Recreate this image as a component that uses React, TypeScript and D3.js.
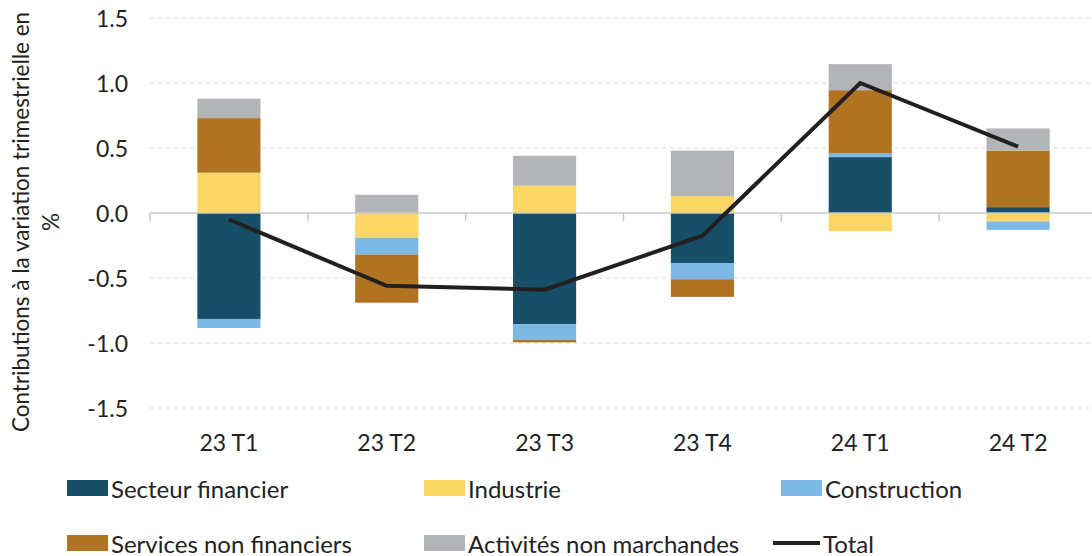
import React from "react";
import * as d3 from "d3";

// quarters on the x axis
const quarters = ["23 T1", "23 T2", "23 T3", "23 T4", "24 T1", "24 T2"];

// contributions by sector
const secteurFinancier = [-0.815, 0.0, -0.855, -0.385, 0.43, 0.045];
const industrie = [0.31, -0.19, 0.21, 0.13, -0.14, -0.065];
const construction = [-0.07, -0.13, -0.12, -0.125, 0.03, -0.065];
const servicesNonFinanciers = [0.42, -0.37, -0.02, -0.135, 0.485, 0.435];
const activitesNonMarchandes = [0.15, 0.14, 0.23, 0.35, 0.2, 0.17];
const total = [-0.05, -0.56, -0.59, -0.175, 1.0, 0.51];

const yTicks = [1.5, 1.0, 0.5, 0.0, -0.5, -1.0, -1.5];

const seriesNames = [
  "Secteur financier",
  "Industrie",
  "Construction",
  "Services non financiers",
  "Activités non marchandes",
];
const seriesValues = [
  secteurFinancier,
  industrie,
  construction,
  servicesNonFinanciers,
  activitesNonMarchandes,
];
const colors = ["#174f69", "#fcd664", "#7cb9e4", "#b07321", "#b3b4b7"];

const W = 1092;
const H = 556;
const font = "Lato, 'Open Sans', sans-serif";

export default function App() {
  const x = d3
    .scaleBand()
    .domain(quarters)
    .range([150, 1097])
    .paddingInner(0.6)
    .paddingOuter(0.3);
  const step = x.step();
  const y = d3.scaleLinear().domain([-1.5, 1.5]).range([408, 18]);

  const rows = quarters.map((q, i) => {
    const r: any = { q };
    seriesNames.forEach((s, k) => (r[s] = seriesValues[k][i]));
    return r;
  });
  const stacked = d3
    .stack()
    .keys(seriesNames)
    .offset(d3.stackOffsetDiverging)(rows);

  const line = d3
    .line<number>()
    .x((d, i) => (x(quarters[i]) as number) + x.bandwidth() / 2)
    .y((d) => y(d));

  const legend = [
    { name: seriesNames[0], color: colors[0], lx: 67, ly: 488 },
    { name: seriesNames[1], color: colors[1], lx: 424, ly: 488 },
    { name: seriesNames[2], color: colors[2], lx: 781, ly: 488 },
    { name: seriesNames[3], color: colors[3], lx: 67, ly: 543 },
    { name: seriesNames[4], color: colors[4], lx: 424, ly: 543 },
  ];

  return (
    <svg
      width={W}
      height={H}
      style={{ position: "absolute", left: 0, top: 0, background: "#fff" }}
      fontFamily={font}
    >
      {/* grid */}
      {yTicks
        .filter((t) => t !== 0)
        .map((t) => (
          <line
            key={t}
            x1={150}
            x2={W}
            y1={y(t)}
            y2={y(t)}
            stroke="#d9d9d9"
            strokeWidth={1}
            strokeDasharray="4,4"
          />
        ))}
      {yTicks.map((t) => (
        <text
          key={"l" + t}
          x={128}
          y={y(t)}
          textAnchor="end"
          dominantBaseline="central"
          fontSize={23}
          fill="#222"
        >
          {t.toFixed(1)}
        </text>
      ))}

      {/* bars */}
      {stacked.map((layer, k) => (
        <g key={layer.key} fill={colors[k]}>
          {layer.map((d, i) => (
            <rect
              key={i}
              x={x(quarters[i])}
              width={x.bandwidth()}
              y={y(Math.max(d[0], d[1]))}
              height={Math.abs(y(d[0]) - y(d[1]))}
            />
          ))}
        </g>
      ))}

      {/* zero axis */}
      <line x1={150} x2={W} y1={y(0)} y2={y(0)} stroke="#c8c8c8" strokeWidth={1.5} />
      {d3.range(quarters.length + 1).map((i) => (
        <line
          key={"t" + i}
          x1={150 + i * step}
          x2={150 + i * step}
          y1={y(0)}
          y2={y(0) + 8}
          stroke="#c8c8c8"
          strokeWidth={1.5}
        />
      ))}

      {/* total line */}
      <path
        d={line(total) || ""}
        fill="none"
        stroke="#231f20"
        strokeWidth={4}
        strokeLinejoin="miter"
      />

      {/* x labels */}
      {quarters.map((q) => (
        <text
          key={q}
          x={(x(q) as number) + x.bandwidth() / 2}
          y={442}
          textAnchor="middle"
          dominantBaseline="central"
          fontSize={23}
          fill="#222"
        >
          {q}
        </text>
      ))}

      {/* y title */}
      <g transform={`translate(20, 222) rotate(-90)`}>
        <text textAnchor="middle" dominantBaseline="central" fontSize={22.5} fill="#222">
          Contributions à la variation trimestrielle en
        </text>
        <text y={30} textAnchor="middle" dominantBaseline="central" fontSize={22.5} fill="#222">
          %
        </text>
      </g>

      {/* legend */}
      {legend.map((l) => (
        <g key={l.name}>
          <rect x={l.lx} y={l.ly - 8} width={41} height={16} fill={l.color} />
          <text
            x={l.lx + 44}
            y={l.ly}
            dominantBaseline="central"
            fontSize={24}
            fill="#222"
          >
            {l.name}
          </text>
        </g>
      ))}
      <line x1={773} x2={820} y1={543} y2={543} stroke="#231f20" strokeWidth={4} />
      <text x={823} y={543} dominantBaseline="central" fontSize={24} fill="#222">
        Total
      </text>
    </svg>
  );
}
